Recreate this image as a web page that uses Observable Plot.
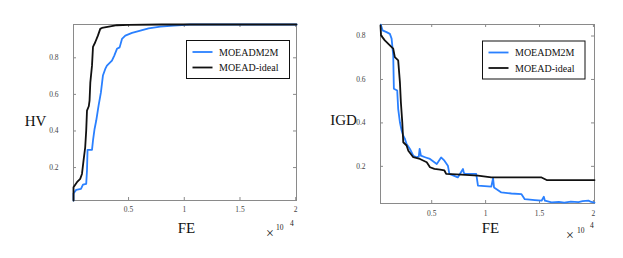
<!DOCTYPE html>
<html><head><meta charset="utf-8">
<script src="https://cdn.jsdelivr.net/npm/d3@7"></script>
<script src="https://cdn.jsdelivr.net/npm/@observablehq/plot@0.6"></script>
<style>
html,body{margin:0;padding:0;background:#fff;}
#wrap{display:flex;width:623px;height:258px;overflow:hidden;}
#wrap svg{display:block;flex:none;}
</style></head><body><div id="wrap"></div>
<script>
// ---- data ----
const seriesNames = ["MOEADM2M", "MOEAD-ideal"];
const seriesColors = ["#2a80ff", "#111111"];
const xLabel = "FE";
const hvLabel = "HV";
const igdLabel = "IGD";
const expBase = "\u00d7";
const expTen = "10";
const expPow = "4";
const xTicks = [5000, 10000, 15000, 20000];
const hvTicks = [0.2, 0.4, 0.6, 0.8];
const igdTicks = [0.2, 0.4, 0.6, 0.8];

// HV - MOEADM2M
const hvM2mFE = [60, 60, 300, 730, 910, 1200, 1270, 1320, 1720, 1810, 1950, 2100, 2310, 2520, 2700, 2910, 3060, 3510, 3720, 3960, 4200, 4410, 4710, 5310, 6060, 6800, 7850, 9050, 10500, 20070];
const hvM2m = [0.02, 0.058, 0.078, 0.084, 0.107, 0.111, 0.184, 0.297, 0.297, 0.348, 0.411, 0.457, 0.539, 0.611, 0.703, 0.739, 0.757, 0.785, 0.812, 0.849, 0.857, 0.903, 0.921, 0.936, 0.949, 0.961, 0.970, 0.976, 0.982, 0.982];
// HV - MOEAD-ideal
const hvIdealFE = [60, 60, 370, 660, 820, 960, 1110, 1200, 1270, 1430, 1500, 1570, 1720, 1810, 2010, 2250, 2460, 2610, 3360, 3960, 5000, 8000, 20070];
const hvIdeal = [0.02, 0.092, 0.12, 0.138, 0.165, 0.238, 0.311, 0.402, 0.511, 0.535, 0.566, 0.666, 0.757, 0.860, 0.885, 0.921, 0.958, 0.963, 0.972, 0.978, 0.980, 0.982, 0.982];

// IGD - MOEADM2M
const igdM2mFE = [280, 440, 810, 1120, 1280, 1430, 1490, 1800, 1890, 2050, 2210, 2360, 2520, 2670, 2980, 3290, 3600, 3800, 3880, 4000, 4380, 4840, 5470, 5870, 6180, 6500, 6640, 7420, 7900, 7980, 8110, 9130, 9290, 10530, 10690, 10780, 11460, 12390, 13330, 13630, 14570, 15190, 15400, 15500, 16120, 16800, 17300, 17900, 18610, 19000, 19540, 19800, 20100];
const igdM2m = [0.852, 0.826, 0.818, 0.810, 0.788, 0.711, 0.557, 0.549, 0.465, 0.403, 0.365, 0.341, 0.326, 0.303, 0.280, 0.249, 0.242, 0.245, 0.280, 0.249, 0.242, 0.234, 0.211, 0.241, 0.226, 0.203, 0.165, 0.149, 0.188, 0.170, 0.165, 0.165, 0.111, 0.107, 0.146, 0.103, 0.080, 0.075, 0.072, 0.049, 0.045, 0.042, 0.060, 0.042, 0.034, 0.036, 0.033, 0.038, 0.035, 0.040, 0.042, 0.036, 0.033];
// IGD - MOEAD-ideal
const igdIdealFE = [250, 300, 650, 1120, 1430, 1580, 1890, 2050, 2140, 2270, 2360, 2670, 2830, 3290, 3910, 4540, 4840, 5250, 5780, 6180, 6340, 7740, 9290, 10530, 15190, 15660, 20100];
const igdIdeal = [0.849, 0.803, 0.780, 0.757, 0.742, 0.703, 0.688, 0.588, 0.495, 0.403, 0.311, 0.296, 0.272, 0.242, 0.234, 0.219, 0.196, 0.188, 0.185, 0.181, 0.165, 0.162, 0.157, 0.149, 0.149, 0.137, 0.137];

function toRows(fe, vals, name) { return fe.map((f, i) => ({fe: f, v: vals[i], s: name})); }

const FONT = "Liberation Serif, Times New Roman, serif";
const FRAME = "#8a8a8a";

function legendMark(cfg) {
  return (index, scales, values, dim) => {
    const fx = dim.width - dim.marginRight - cfg.right - cfg.w;
    const fy = dim.marginTop + cfg.top;
    const g = d3.create("svg:g").attr("font-family", FONT).attr("text-anchor", "start");
    g.append("rect").attr("x", fx).attr("y", fy).attr("width", cfg.w).attr("height", cfg.h)
      .attr("fill", "white").attr("stroke", "#111").attr("stroke-width", 1);
    seriesNames.forEach((n, i) => {
      const yy = fy + 11.5 + i * 15.5;
      g.append("line").attr("x1", fx + 6).attr("x2", fx + 26).attr("y1", yy).attr("y2", yy)
        .attr("stroke", seriesColors[i]).attr("stroke-width", 1.8);
      g.append("text").attr("x", fx + 32.5).attr("y", yy + 3.5).attr("font-size", 10)
        .attr("text-anchor", "start").attr("fill", "#111").text(n);
    });
    return g.node();
  };
}

function expMark(cfg) {
  return (index, scales, values, dim) => {
    const rx = dim.width - dim.marginRight;
    const by = dim.height - dim.marginBottom;
    const g = d3.create("svg:g").attr("font-family", FONT).attr("fill", "#222").attr("text-anchor", "start");
    g.append("text").attr("x", rx + cfg.tx).attr("y", by + cfg.ty).attr("font-size", 14).attr("text-anchor", "middle").text(expBase);
    g.append("text").attr("x", rx + cfg.tenx).attr("y", by + cfg.teny).attr("font-size", 7.5).attr("text-anchor", "start").text(expTen);
    g.append("text").attr("x", rx + cfg.px).attr("y", by + cfg.py).attr("font-size", 7.5).attr("text-anchor", "start").text(expPow);
    return g.node();
  };
}

function makeChart(o) {
  const fw = o.width - o.ml - o.mr;
  const fh = o.height - o.mt - o.mb;
  return Plot.plot({
    width: o.width, height: o.height,
    marginLeft: o.ml, marginRight: o.mr, marginTop: o.mt, marginBottom: o.mb,
    style: {fontFamily: FONT, fontSize: "7.5px", background: "white", color: "#333"},
    x: {domain: o.xDomain},
    y: {domain: o.yDomain},
    color: {domain: seriesNames, range: seriesColors},
    marks: [
      Plot.frame({stroke: FRAME, strokeWidth: 1}),
      Plot.tickX(xTicks, {x: d => d, insetTop: fh - 3, stroke: FRAME}),
      Plot.tickX(xTicks, {x: d => d, insetBottom: fh - 3, stroke: FRAME}),
      Plot.tickY(o.yTicks, {y: d => d, insetRight: fw - 3, stroke: FRAME}),
      Plot.tickY(o.yTicks, {y: d => d, insetLeft: fw - 3, stroke: FRAME}),
      Plot.axisX(xTicks, {tickSize: 0, tickPadding: o.xPad, tickFormat: d => String(d / 1e4), label: null, fill: "#444"}),
      Plot.axisY(o.yTicks, {tickSize: 0, tickPadding: 15, tickFormat: d => String(d), label: null, fill: "#444"}),
      Plot.line(o.rows, {x: "fe", y: "v", z: "s", stroke: "s", strokeWidth: 1.8, strokeLinejoin: "round"}),
      Plot.text([xLabel], {text: d => d, frameAnchor: "bottom", dx: o.xlDx, dy: o.xlDy, fontSize: 15, fill: "#111"}),
      Plot.text([o.yLabel], {text: d => d, frameAnchor: "left", dx: o.ylDx, dy: o.ylDy, fontSize: 15, fill: "#111", textAnchor: "middle"}),
      legendMark(o.legend),
      expMark(o.exp)
    ]
  });
}

const hvRows = [...toRows(hvM2mFE, hvM2m, seriesNames[0]), ...toRows(hvIdealFE, hvIdeal, seriesNames[1])];
const igdRows = [...toRows(igdM2mFE, igdM2m, seriesNames[0]), ...toRows(igdIdealFE, igdIdeal, seriesNames[1])];

const left = makeChart({
  width: 311, height: 258, ml: 73, mr: 15, mt: 24, mb: 58,
  xDomain: [60, 20070], yDomain: [0.02, 0.982], yTicks: hvTicks, rows: hvRows,
  xPad: 6, yLabel: hvLabel, xlDx: 1.5, xlDy: 32, ylDx: -38, ylDy: 8.5,
  legend: {right: 6.5, top: 16.5, w: 103, h: 38},
  exp: {tx: -26, ty: 38, tenx: -20, teny: 30, px: -6, py: 25.5}
});
const right = makeChart({
  width: 312, height: 258, ml: 69, mr: 29, mt: 24, mb: 55,
  xDomain: [250, 20100], yDomain: [0.029, 0.853], yTicks: igdTicks, rows: igdRows,
  xPad: 7, yLabel: igdLabel, xlDx: 3, xlDy: 29.5, ylDx: -37, ylDy: 6,
  legend: {right: 9, top: 17, w: 102.5, h: 38},
  exp: {tx: -24, ty: 36.5, tenx: -17, teny: 29.5, px: -4, py: 24.5}
});
document.getElementById("wrap").append(left, right);
</script></body></html>
